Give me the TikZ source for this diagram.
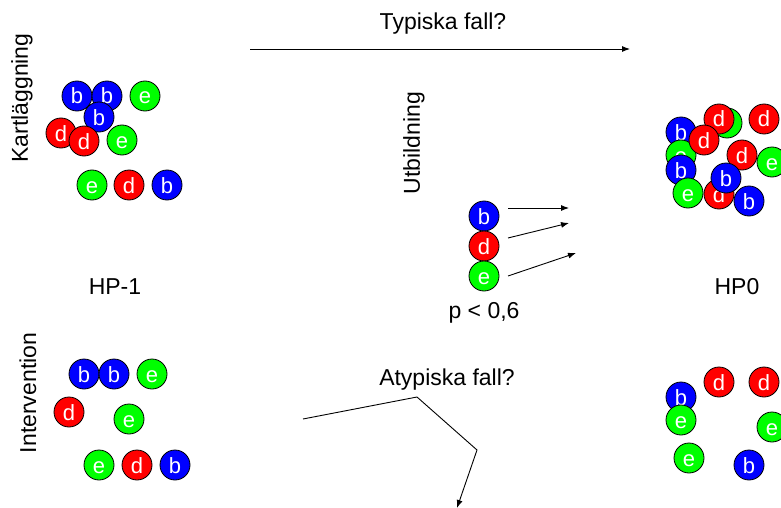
\documentclass[tikz,border=0pt]{standalone}
\usepackage{fontspec}
\setmainfont{Liberation Sans}
\usetikzlibrary{arrows.meta}
\definecolor{ballblue}{RGB}{0,0,255}
\definecolor{ballred}{RGB}{255,0,0}
\definecolor{ballgreen}{RGB}{0,255,0}

\begin{document}
\begin{tikzpicture}[x=1pt, y=-1pt,
  ball/.style={circle, draw, line width=0.8pt, minimum size=30pt, inner sep=0pt, text=white, text height=16pt, text depth=0pt, font=\fontsize{22}{22}\selectfont},
  bball/.style={ball, fill=ballblue},
  dball/.style={ball, fill=ballred},
  eball/.style={ball, fill=ballgreen},
  lbl/.style={font=\fontsize{23}{27}\selectfont},
  arr/.style={line width=0.9pt, -{Latex[length=8pt,width=6pt]}}]
\useasboundingbox (0,0) rectangle (781,508);

% Kartlaggning
\node[lbl, rotate=90] (kart) at (22,98) {Kartläggning};
\node[bball] (kb1) at (77,96) {b};
\node[bball] (kb2) at (107,96) {b};
\node[eball] (ke1) at (145,96) {e};
\node[bball] (kb3) at (99,117) {b};
\node[dball] (kd1) at (61,133) {d};
\node[dball] (kd2) at (84,141) {d};
\node[eball] (ke2) at (122,140) {e};
\node[eball] (ke3) at (92,185) {e};
\node[dball] (kd3) at (129,185) {d};
\node[bball] (kb4) at (167,185) {b};
\node[lbl] (hpm) at (115,287) {HP-1};

% Typiska fall
\node[lbl] (typ) at (443,24) {Typiska fall?};
\coordinate (typa) at (250,49);
\coordinate (typb) at (630,49);
\draw[arr] (typa) -- (typb);

% Utbildning
\node[lbl, rotate=90] (utb) at (414,143) {Utbildning};
\node[bball] (ub) at (484,216) {b};
\node[dball] (ud) at (484,246) {d};
\node[eball] (ue) at (484,276) {e};
\coordinate (uba) at (508,208);
\coordinate (ubb) at (569,208);
\coordinate (uda) at (508,238);
\coordinate (udb) at (569,223);
\coordinate (uea) at (508,276);
\coordinate (ueb) at (576,253);
\draw[arr] (uba) -- (ubb);
\draw[arr] (uda) -- (udb);
\draw[arr] (uea) -- (ueb);
\node[lbl] (pval) at (484,313) {p < 0,6};

% HP0
\node[eball] (te1) at (727,123) {e};
\node[dball] (td1) at (719,119) {d};
\node[dball] (td2) at (764,119) {d};
\node[bball] (tb1) at (681,132) {b};
\node[eball] (te2) at (681,155) {e};
\node[dball] (td3) at (704,140) {d};
\node[bball] (tb2) at (681,170) {b};
\node[dball] (td4) at (742,155) {d};
\node[eball] (te3) at (772,162) {e};
\node[eball] (te4) at (688,193) {e};
\node[dball] (td5) at (719,194) {d};
\node[bball] (tb3) at (726,178) {b};
\node[bball] (tb4) at (749,201) {b};
\node[lbl] (hp0) at (737,287) {HP0};

% Intervention
\node[lbl, rotate=90] (inter) at (28,393) {Intervention};
\node[bball] (ib1) at (84,374) {b};
\node[bball] (ib2) at (114,374) {b};
\node[eball] (ie1) at (152,374) {e};
\node[dball] (id1) at (69,412) {d};
\node[eball] (ie2) at (129,419) {e};
\node[eball] (ie3) at (99,465) {e};
\node[dball] (id2) at (137,465) {d};
\node[bball] (ib3) at (175,465) {b};

% Atypiska fall
\node[lbl] (atyp) at (447,380) {Atypiska fall?};
\coordinate (at1) at (303,419);
\coordinate (at2) at (417,397);
\coordinate (at3) at (477,450);
\coordinate (at4) at (457,508);
\draw[arr] (at1) -- (at2) -- (at3) -- (at4);
\node[bball] (ab1) at (681,397) {b};
\node[dball] (ad1) at (719,382) {d};
\node[dball] (ad2) at (764,382) {d};
\node[eball] (ae1) at (681,420) {e};
\node[eball] (ae2) at (772,427) {e};
\node[eball] (ae3) at (689,458) {e};
\node[bball] (ab2) at (749,465) {b};
\end{tikzpicture}
\end{document}
